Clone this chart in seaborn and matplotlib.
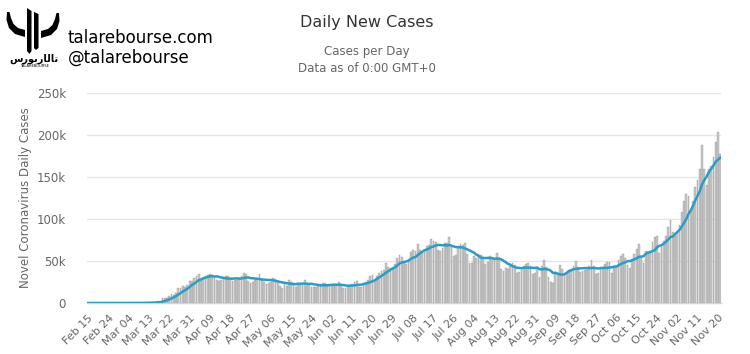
"""Daily new coronavirus cases with 7-day moving average."""

import matplotlib

matplotlib.use("Agg")
import matplotlib.pyplot as plt
from matplotlib.patches import Polygon
import numpy as np
import pandas as pd
import seaborn as sns


START_DATE = "2020-02-15"

# daily new cases, Feb 15 .. Nov 21
FEB_CASES = [0, 0, 0, 0, 0, 0, 18, 0, 0, 0, 1, 0, 1, 3, 8]
MAR_CASES = [
    11, 22, 23, 31, 68, 45, 140, 116, 65, 376, 322, 382, 516, 548, 772, 1133,
    1789, 1362, 5894, 5423, 6389, 7787, 10571, 9893, 12038, 18058, 17821,
    19821, 19408, 20921, 26365,
]
APR_CASES = [
    26473, 29874, 32284, 34196, 25717, 30310, 32151, 33410, 34811, 33734,
    30024, 27590, 26074, 26868, 30010, 31606, 32109, 29555, 26584, 27972,
    27312, 28973, 31625, 36188, 33955, 26543, 23262, 24843, 27426, 29917,
]
MAY_CASES = [
    34037, 29078, 25501, 22335, 24282, 25113, 29522, 28368, 25621, 20329,
    18196, 22048, 20782, 27143, 25508, 24109, 18873, 22630, 21233, 22302,
    27238, 24131, 22461, 19608, 18797, 19015, 19916, 22763, 24197, 23290,
    20350,
]
JUN_CASES = [
    20689, 21305, 20577, 21654, 24720, 22250, 18361, 17598, 19055, 21113,
    22787, 25247, 25598, 19632, 19543, 23557, 25559, 27762, 31960, 32891,
    27225, 31941, 36015, 38386, 39818, 47341, 43393, 41556, 41662, 46042,
]
JUL_CASES = [
    52982, 57209, 54442, 47552, 46084, 49658, 60209, 62918, 61848, 70241,
    62918, 59208, 61828, 67632, 69348, 75600, 73558, 72315, 62879, 61942,
    64886, 71967, 71494, 78000, 66089, 56130, 56780, 65445, 70197, 69000,
    71500,
]
AUG_CASES = [
    58000, 47500, 47200, 55900, 54000, 58500, 57500, 54500, 47000, 48500,
    55500, 53000, 52000, 60000, 53500, 41000, 38000, 42000, 40500, 44500,
    48000, 45000, 35500, 36500, 39500, 44500, 46000, 47500, 44000, 35000,
    36000,
]
SEP_CASES = [
    42000, 31000, 44500, 51000, 42500, 31500, 25000, 24000, 34000, 36000,
    45000, 41000, 34500, 36500, 39000, 40000, 44500, 50000, 42500, 36500,
    38000, 39500, 39000, 44500, 51000, 43500, 34500, 35500, 43000, 40000,
]
OCT_CASES = [
    46000, 49000, 48500, 35500, 42000, 43000, 51000, 56000, 58000, 54000,
    45000, 42000, 51000, 58000, 64000, 70500, 56000, 48000, 62000, 61000,
    62000, 73000, 78000, 80000, 60000, 67000, 74000, 80000, 90000, 99000,
    84000,
]
NOV_CASES = [
    80000, 84000, 93000, 108000, 121000, 130000, 127000, 110000, 122000,
    138000, 146000, 160000, 188000, 160000, 140000, 160000, 163000, 174000,
    192000, 204000, 177000,
]

TICK_LABELS = [
    "Feb 15", "Feb 24", "Mar 04", "Mar 13", "Mar 22", "Mar 31", "Apr 09",
    "Apr 18", "Apr 27", "May 06", "May 15", "May 24", "Jun 02", "Jun 11",
    "Jun 20", "Jun 29", "Jul 08", "Jul 17", "Jul 26", "Aug 04", "Aug 13",
    "Aug 22", "Aug 31", "Sep 09", "Sep 18", "Sep 27", "Oct 06", "Oct 15",
    "Oct 24", "Nov 02", "Nov 11", "Nov 20",
]
TICK_STEP = 9
Y_TICKS = [0, 50000, 100000, 150000, 200000, 250000]
Y_TICK_LABELS = ["0", "50k", "100k", "150k", "200k", "250k"]

BAR_COLOR = "#c8c8c8"
BAR_EDGE = "#8f8f8f"
LINE_COLOR = "#2b9dc5"
TEXT_GRAY = "#666666"

W, H = 750, 354


def draw_logo(fig):
    lax = fig.add_axes([0, 0, 1, 1], zorder=-1)
    lax.set_xlim(0, W)
    lax.set_ylim(H, 0)
    lax.axis("off")
    # horns
    outer = [(7, 12), (6.5, 20), (9, 28), (15, 34), (25, 37)]
    inner = [(25, 30), (18, 28), (13.5, 24), (11, 18), (9.5, 12)]
    left = outer + inner
    right = [(66 - x, y + 1) for x, y in left]
    for pts in (left, right):
        lax.add_patch(Polygon(pts, closed=True, color="black", lw=0))
    stems = [
        [(27, 8), (31.5, 11), (31.5, 51), (29.5, 54), (27, 51)],
        [(34, 12), (38.5, 14), (38.5, 48), (36, 50), (34, 48)],
    ]
    for pts in stems:
        lax.add_patch(Polygon(pts, closed=True, color="black", lw=0))
    # Persian wordmark in presentation forms, already in visual order
    lax.text(34, 59, "\ufeb1\ufead\ufeee\ufe91\ufead\ufe8e\ufedf\ufe8e\ufe97",
             ha="center", va="center", fontsize=7, color="black",
             family=["DejaVu Sans"], fontweight="bold")
    lax.text(34, 66, "TALAREBOURSE", ha="center", va="center", fontsize=2.6,
             color="black")


def main():
    cases = (FEB_CASES + MAR_CASES + APR_CASES + MAY_CASES + JUN_CASES
             + JUL_CASES + AUG_CASES + SEP_CASES + OCT_CASES + NOV_CASES)
    dates = pd.date_range(START_DATE, periods=len(cases), freq="D")
    df = pd.DataFrame({"date": dates.strftime("%b %d"), "cases": cases})
    df["avg"] = df["cases"].rolling(7, min_periods=1).mean()
    df["pos"] = np.arange(len(df))

    plt.rcParams["font.family"] = ["DejaVu Sans"]
    fig = plt.figure(figsize=(W / 100, H / 100), dpi=100)
    fig.patch.set_facecolor("white")

    left_px, right_px, top_px, bottom_px = 86.9, 721.3, 93, 303
    ax = fig.add_axes([left_px / W, (H - bottom_px) / H,
                       (right_px - left_px) / W, (bottom_px - top_px) / H])

    sns.barplot(data=df, x="date", y="cases", color=BAR_COLOR, saturation=1,
                width=0.78, edgecolor=BAR_EDGE, linewidth=0.25, errorbar=None,
                ax=ax, zorder=2)
    sns.lineplot(data=df, x="pos", y="avg", color=LINE_COLOR, linewidth=1.8,
                 ax=ax, zorder=3)

    ax.set_xlim(-0.5, len(df) - 0.5)
    ax.set_ylim(0, 250000)
    ax.set_yticks(Y_TICKS)
    ax.set_yticklabels(Y_TICK_LABELS)
    ax.set_xticks(np.arange(len(TICK_LABELS)) * TICK_STEP)
    ax.set_xticklabels(TICK_LABELS, rotation=45, ha="right",
                       rotation_mode="anchor")
    ax.tick_params(axis="x", length=0, pad=7, labelsize=8, colors=TEXT_GRAY)
    ax.tick_params(axis="y", length=0, pad=15, labelsize=8.5, colors=TEXT_GRAY)
    ax.set_xlabel("")
    ax.set_ylabel("")
    ax.grid(True, axis="y", color="#e6e6e6", linewidth=1, zorder=0)
    ax.set_axisbelow(True)
    for side in ("top", "right", "left"):
        ax.spines[side].set_visible(False)
    ax.spines["bottom"].set_color("#ccd6eb")
    ax.spines["bottom"].set_linewidth(1)

    fig.text(26 / W, 1 - 198 / H, "Novel Coronavirus Daily Cases",
             rotation=90, ha="center", va="center", fontsize=8.5,
             color=TEXT_GRAY)
    fig.text(367 / W, 1 - 22 / H, "Daily New Cases", ha="center",
             va="center", fontsize=11.5, color="#333333")
    fig.text(367 / W, 1 - 52 / H, "Cases per Day", ha="center", va="center",
             fontsize=8.5, color=TEXT_GRAY)
    fig.text(367 / W, 1 - 68 / H, "Data as of 0:00 GMT+0", ha="center",
             va="center", fontsize=8.5, color=TEXT_GRAY)

    draw_logo(fig)
    fig.text(68 / W, 1 - 38 / H, "talarebourse.com", ha="left", va="center",
             fontsize=12, color="black")
    fig.text(68 / W, 1 - 58 / H, "@talarebourse", ha="left", va="center",
             fontsize=12, color="black")

    fig.savefig("out.png", dpi=100, facecolor="white")
    plt.close(fig)


if __name__ == "__main__":
    main()
